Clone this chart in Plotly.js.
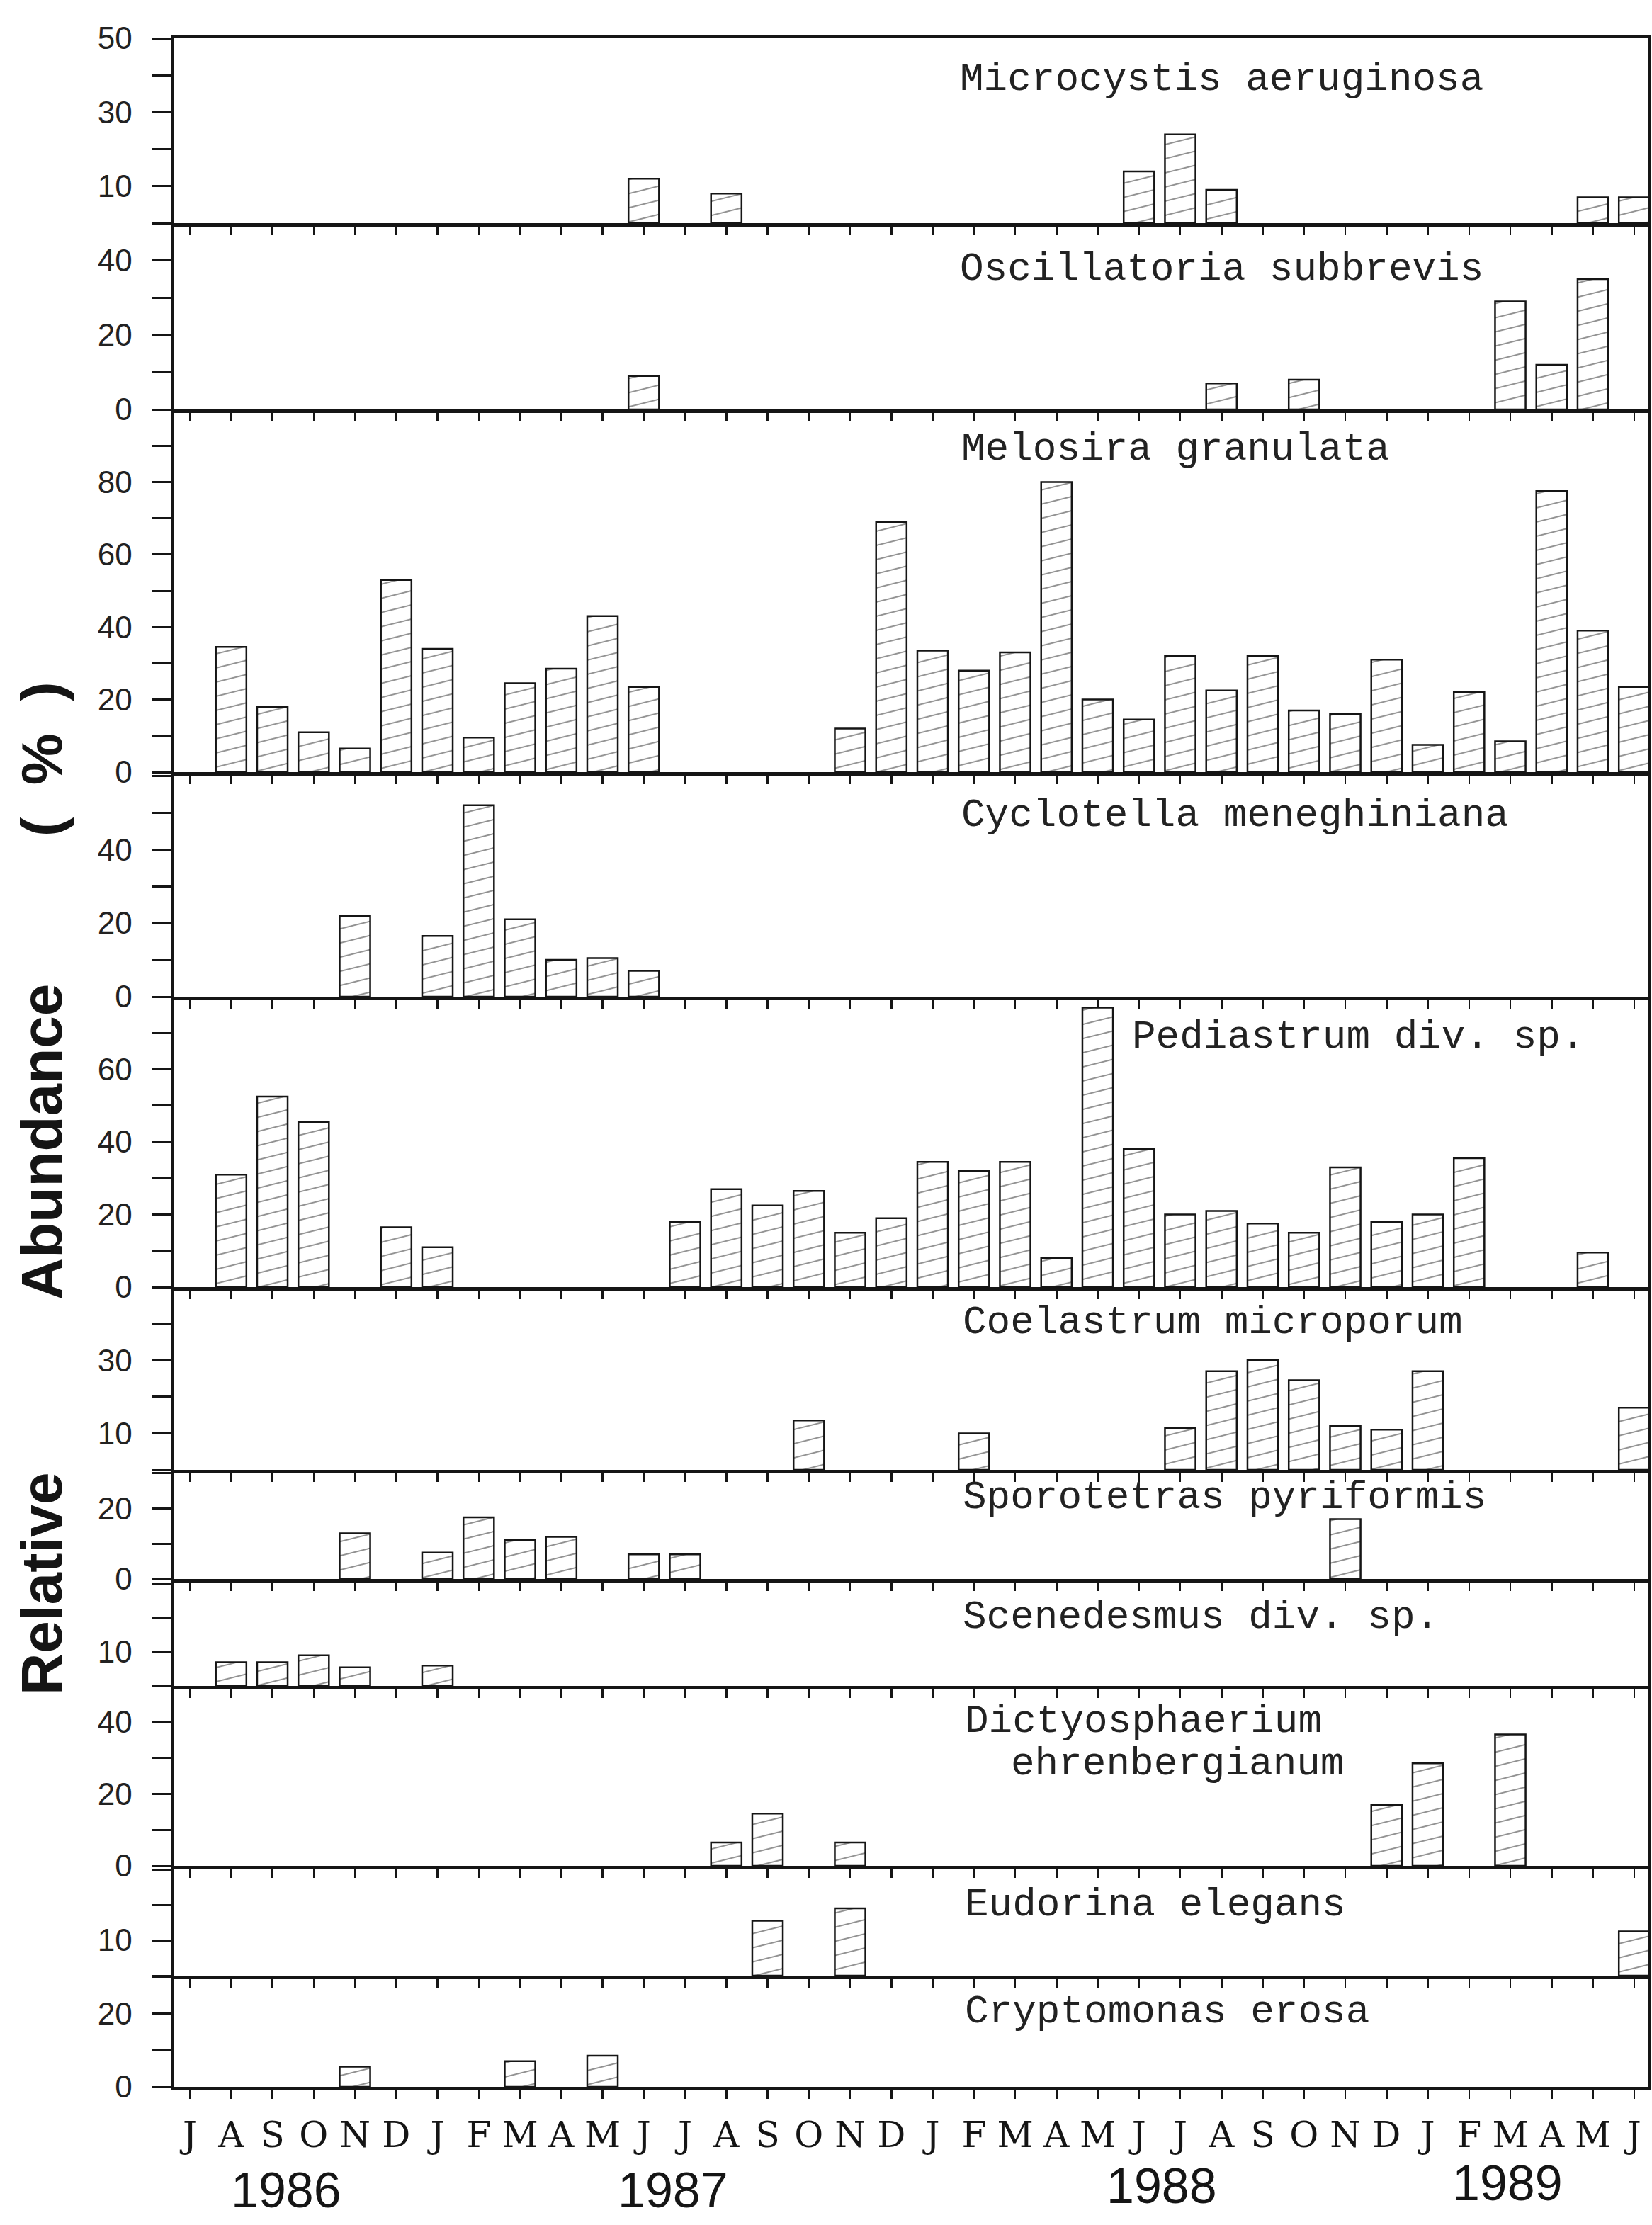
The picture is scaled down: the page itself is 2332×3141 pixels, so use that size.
<!DOCTYPE html>
<html>
<head>
<meta charset="utf-8">
<script src="https://cdn.plot.ly/plotly-3.0.1.min.js"></script>
<style>
html,body{margin:0;padding:0;background:#fff;}
#chart{width:2332px;height:3141px;}
</style>
</head>
<body>
<div id="chart"></div>
<script>
// ---------------- DATA ----------------
const months = ['J','A','S','O','N','D','J','F','M','A','M','J','J','A','S','O','N','D',
                'J','F','M','A','M','J','J','A','S','O','N','D','J','F','M','A','M','J'];
const years = ['1986','1987','1988','1989'];
const species = ['Microcystis aeruginosa','Oscillatoria subbrevis','Melosira granulata',
  'Cyclotella meneghiniana','Pediastrum div. sp.','Coelastrum microporum',
  'Sporotetras pyriformis','Scenedesmus div. sp.','Dictyosphaerium','Eudorina elegans','Cryptomonas erosa'];
const speciesLine2 = 'ehrenbergianum';

// month index (0 = July 1986 ... 35 = June 1989) and relative abundance (%)
const microcystisIdx = [11,13,23,24,25,34,35];
const microcystisVal = [12,8,14,24,9,7,7];
const oscillatoriaIdx = [11,25,27,32,33,34];
const oscillatoriaVal = [9,7,8,29,12,35];
const melosiraIdx = [1,2,3,4,5,6,7,8,9,10,11,16,17,18,19,20,21,22,23,24,25,26,27,28,29,30,31,32,33,34,35];
const melosiraVal = [34.5,18,11,6.5,53,34,9.5,24.5,28.5,43,23.5,12,69,33.5,28,33,80,20,14.5,32,22.5,32,17,16,31,7.5,22,8.5,77.5,39,23.5];
const cyclotellaIdx = [4,6,7,8,9,10,11];
const cyclotellaVal = [22,16.5,52,21,10,10.5,7];
const pediastrumIdx = [1,2,3,5,6,12,13,14,15,16,17,18,19,20,21,22,23,24,25,26,27,28,29,30,31,34];
const pediastrumVal = [31,52.5,45.5,16.5,11,18,27,22.5,26.5,15,19,34.5,32,34.5,8,77,38,20,21,17.5,15,33,18,20,35.5,9.5];
const coelastrumIdx = [15,19,24,25,26,27,28,29,30,35];
const coelastrumVal = [13.5,10,11.5,27,30,24.5,12,11,27,17];
const sporotetrasIdx = [4,6,7,8,9,11,12,28];
const sporotetrasVal = [13,7.5,17.5,11,12,7,7,17];
const scenedesmusIdx = [1,2,3,4,6];
const scenedesmusVal = [7,7,9,5.5,6];
const dictyoIdx = [13,14,16,29,30,32];
const dictyoVal = [6.5,14.5,6.5,17,28.5,36.5];
const eudorinaIdx = [14,16,35];
const eudorinaVal = [15.5,19,12.5];
const cryptomonasIdx = [4,8,10];
const cryptomonasVal = [5.5,7,8.5];

// y-axis tick labels per panel
const yMax = [50,50,100,61,80,50,31,31.5,50,31,30.4];
const yLabelVals = [[10,30,50],[0,20,40],[0,20,40,60,80],[0,20,40],[0,20,40,60],[10,30],[0,20],[10],[0,20,40],[10],[0,20]];

// ---------------- LAYOUT GEOMETRY ----------------
const W = 2332, H = 3141, L = 245, R = 2326, T = 54, B = 2946;
const pw = R - L, ph = B - T;
const px2x = x => (x - L) / pw;
const px2y = y => (B - y) / ph;
const panelTopPx  = [54,315,578,1090,1407,1817,2075,2229,2380,2634,2789];
const panelZeroPx = [315,578,1090,1407,1817,2075,2229,2380,2634,2789,2946];
const labelPos = [[1353,112],[1353,380],[1355,634],[1355,1151],[1596,1464],[1357,1867],
                  [1357,2114],[1357,2283],[1360,2430],[1360,2689],[1360,2840]];
const line2Pos = [1425,2490];
const yearPos = [[404,3092],[950,3092],[1640,3086],[2128,3082]];

const series = [
  [microcystisIdx, microcystisVal],[oscillatoriaIdx, oscillatoriaVal],[melosiraIdx, melosiraVal],
  [cyclotellaIdx, cyclotellaVal],[pediastrumIdx, pediastrumVal],[coelastrumIdx, coelastrumVal],
  [sporotetrasIdx, sporotetrasVal],[scenedesmusIdx, scenedesmusVal],[dictyoIdx, dictyoVal],
  [eudorinaIdx, eudorinaVal],[cryptomonasIdx, cryptomonasVal]
];

const ink = '#151515';
const monthTicks = months.map((m,i)=>i);

const data = [];
const layout = {
  width: W, height: H,
  margin: {l: L, r: W - R, t: T, b: H - B, pad: 0},
  paper_bgcolor: '#fff', plot_bgcolor: 'rgba(0,0,0,0)',
  showlegend: false,
  annotations: [], shapes: []
};

series.forEach((s, k) => {
  const n = k + 1;
  const xr = n === 1 ? 'x' : 'x' + n;
  const yr = n === 1 ? 'y' : 'y' + n;
  const xa = n === 1 ? 'xaxis' : 'xaxis' + n;
  const ya = n === 1 ? 'yaxis' : 'yaxis' + n;
  data.push({
    type: 'bar', x: s[0], y: s[1], xaxis: xr, yaxis: yr, width: 0.74,
    marker: {color: '#fff', line: {color: ink, width: 2.5},
             pattern: {shape: '/', size: 14.14, solidity: 0.1, fgcolor: '#222', fillmode: 'overlay'}},
    hoverinfo: 'skip'
  });
  const tv = [];
  for (let v = 0; v <= yMax[k] + 0.01; v += 10) tv.push(v);
  layout[ya] = {
    domain: [px2y(panelZeroPx[k]), px2y(panelTopPx[k])],
    range: [0, yMax[k]], anchor: xr,
    showline: true, linewidth: 3.5, linecolor: ink, mirror: true,
    showgrid: false, zeroline: false,
    ticks: 'outside', ticklen: 28, tickwidth: 3, tickcolor: ink,
    tickvals: tv, ticktext: tv.map(v => yLabelVals[k].includes(v) ? String(v) : ''),
    tickfont: {family: 'Liberation Sans, Arial, sans-serif', size: 44, color: '#222'},
    ticklabelstandoff: 18, fixedrange: true
  };
  const isBottom = n === series.length;
  layout[xa] = {
    domain: [0, 1], range: [-0.395, 35.33], anchor: yr,
    showline: true, linewidth: 5, linecolor: ink, mirror: n === 1,
    showgrid: false, zeroline: false,
    ticks: 'outside', ticklen: 12, tickwidth: 2.5, tickcolor: ink,
    tickvals: monthTicks, ticktext: months, showticklabels: isBottom,
    tickfont: {family: 'DejaVu Serif, serif', size: 50, color: ink},
    ticklabelstandoff: 8, fixedrange: true
  };
  layout.annotations.push({
    text: species[k], xref: 'paper', yref: 'paper',
    x: px2x(labelPos[k][0]), y: px2y(labelPos[k][1]),
    xanchor: 'left', yanchor: 'middle', showarrow: false,
    font: {family: 'Liberation Mono, monospace', size: 56, color: '#222'}
  });
});

layout.annotations.push({
  text: speciesLine2, xref: 'paper', yref: 'paper',
  x: px2x(line2Pos[0]), y: px2y(line2Pos[1]),
  xanchor: 'left', yanchor: 'middle', showarrow: false,
  font: {family: 'Liberation Mono, monospace', size: 56, color: '#222'}
});

years.forEach((yr, i) => {
  layout.annotations.push({
    text: yr, xref: 'paper', yref: 'paper',
    x: px2x(yearPos[i][0]), y: px2y(yearPos[i][1]),
    xanchor: 'center', yanchor: 'middle', showarrow: false,
    font: {family: 'Liberation Sans, Arial, sans-serif', size: 70, color: ink}
  });
});

const yTitleParts = [['Relative', 2236], ['Abundance', 1612], ['(  %  )', 1072]];
yTitleParts.forEach(p => {
  layout.annotations.push({
    text: p[0], xref: 'paper', yref: 'paper',
    x: px2x(58), y: px2y(p[1]), xanchor: 'center', yanchor: 'middle',
    textangle: -90, showarrow: false,
    font: {family: 'Liberation Sans, Arial, sans-serif', size: 82, color: ink, weight: 'bold'}
  });
});

const gd = document.getElementById('chart');
Plotly.newPlot(gd, data, layout, {staticPlot: true, responsive: false}).then(() => {
  // flatten the hatch lines to the shallow slope of the original figure
  gd.querySelectorAll('pattern').forEach(p => p.setAttribute('patternTransform', 'scale(4,1)'));
});
</script>
</body>
</html>
